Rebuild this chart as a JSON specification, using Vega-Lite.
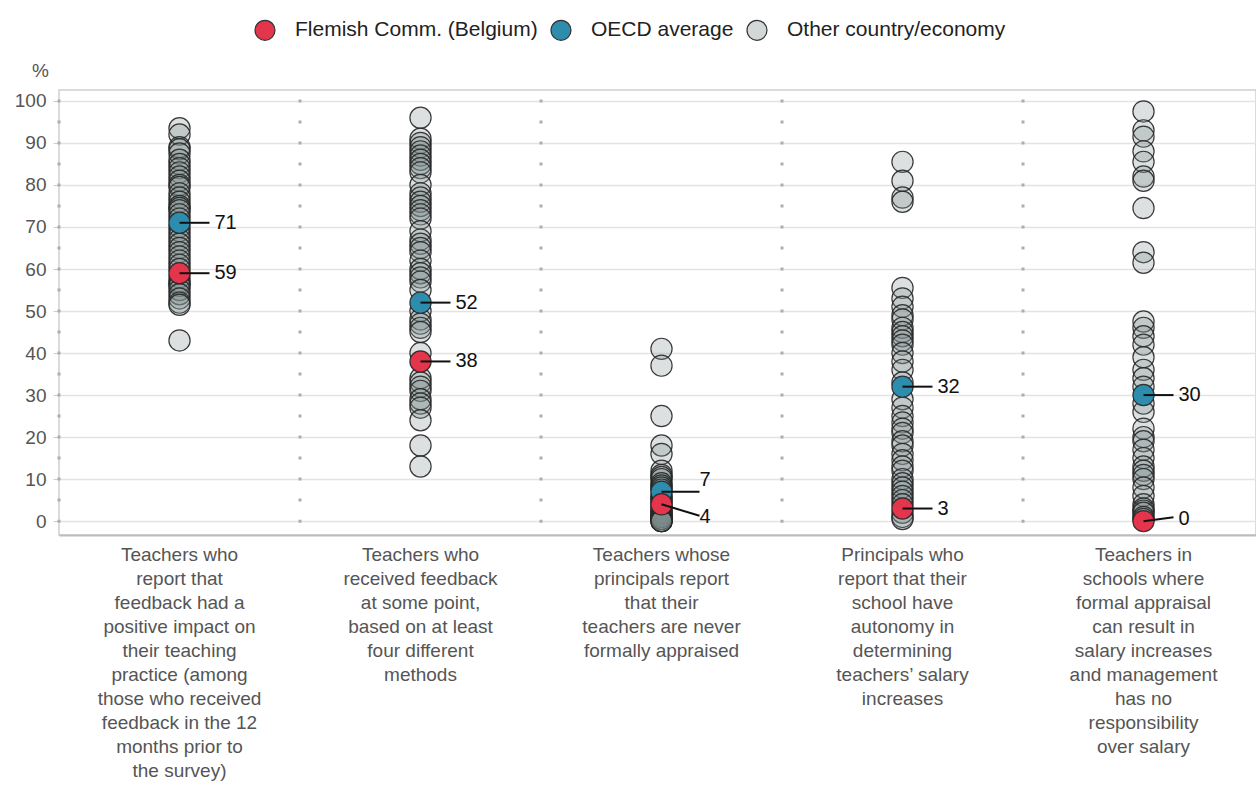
{
  "$schema": "https://vega.github.io/schema/vega-lite/v6.json",
  "width": 1197,
  "height": 445,
  "autosize": {"type": "none"},
  "padding": {"left": 59, "top": 90, "right": 0, "bottom": 255},
  "background": "white",
  "config": {
    "font": "Liberation Sans",
    "view": {"stroke": "#d0d0d0", "strokeWidth": 1.5}
  },
  "datasets": {
    "cats": [
      {"k": "c1", "cat": "Teachers who|report that|feedback had a|positive impact on|their teaching|practice (among|those who received|feedback in the 12|months prior to|the survey)"},
      {"k": "c2", "cat": "Teachers who|received feedback|at some point,|based on at least|four different|methods"},
      {"k": "c3", "cat": "Teachers whose|principals report|that their|teachers are never|formally appraised"},
      {"k": "c4", "cat": "Principals who|report that their|school have|autonomy in|determining|teachers’ salary|increases"},
      {"k": "c5", "cat": "Teachers in|schools where|formal appraisal|can result in|salary increases|and management|has no|responsibility|over salary"}
    ],
    "points": [
      {"k":"c1","g":"Other country/economy","v":93.5},{"k":"c1","g":"Other country/economy","v":92},{"k":"c1","g":"Other country/economy","v":89},{"k":"c1","g":"Other country/economy","v":88.5},{"k":"c1","g":"Other country/economy","v":87.5},{"k":"c1","g":"Other country/economy","v":86},{"k":"c1","g":"Other country/economy","v":85},{"k":"c1","g":"Other country/economy","v":84},{"k":"c1","g":"Other country/economy","v":83},{"k":"c1","g":"Other country/economy","v":82},{"k":"c1","g":"Other country/economy","v":81},{"k":"c1","g":"Other country/economy","v":80},{"k":"c1","g":"Other country/economy","v":79.5},{"k":"c1","g":"Other country/economy","v":78},{"k":"c1","g":"Other country/economy","v":77},{"k":"c1","g":"Other country/economy","v":76},{"k":"c1","g":"Other country/economy","v":75},{"k":"c1","g":"Other country/economy","v":74.5},{"k":"c1","g":"Other country/economy","v":74},{"k":"c1","g":"Other country/economy","v":73},{"k":"c1","g":"Other country/economy","v":72},{"k":"c1","g":"Other country/economy","v":70},{"k":"c1","g":"Other country/economy","v":69},{"k":"c1","g":"Other country/economy","v":68},{"k":"c1","g":"Other country/economy","v":67},{"k":"c1","g":"Other country/economy","v":66},{"k":"c1","g":"Other country/economy","v":65},{"k":"c1","g":"Other country/economy","v":64},{"k":"c1","g":"Other country/economy","v":63},{"k":"c1","g":"Other country/economy","v":62},{"k":"c1","g":"Other country/economy","v":61},{"k":"c1","g":"Other country/economy","v":60},{"k":"c1","g":"Other country/economy","v":58},{"k":"c1","g":"Other country/economy","v":57},{"k":"c1","g":"Other country/economy","v":56.5},{"k":"c1","g":"Other country/economy","v":56},{"k":"c1","g":"Other country/economy","v":55},{"k":"c1","g":"Other country/economy","v":54},{"k":"c1","g":"Other country/economy","v":53},{"k":"c1","g":"Other country/economy","v":52},{"k":"c1","g":"Other country/economy","v":51.5},{"k":"c1","g":"Other country/economy","v":43},
      {"k":"c2","g":"Other country/economy","v":96},{"k":"c2","g":"Other country/economy","v":91},{"k":"c2","g":"Other country/economy","v":90},{"k":"c2","g":"Other country/economy","v":89},{"k":"c2","g":"Other country/economy","v":88},{"k":"c2","g":"Other country/economy","v":87},{"k":"c2","g":"Other country/economy","v":86},{"k":"c2","g":"Other country/economy","v":85},{"k":"c2","g":"Other country/economy","v":84},{"k":"c2","g":"Other country/economy","v":83},{"k":"c2","g":"Other country/economy","v":80},{"k":"c2","g":"Other country/economy","v":78},{"k":"c2","g":"Other country/economy","v":77},{"k":"c2","g":"Other country/economy","v":76},{"k":"c2","g":"Other country/economy","v":75},{"k":"c2","g":"Other country/economy","v":74},{"k":"c2","g":"Other country/economy","v":73},{"k":"c2","g":"Other country/economy","v":72},{"k":"c2","g":"Other country/economy","v":69},{"k":"c2","g":"Other country/economy","v":67},{"k":"c2","g":"Other country/economy","v":66},{"k":"c2","g":"Other country/economy","v":65},{"k":"c2","g":"Other country/economy","v":64},{"k":"c2","g":"Other country/economy","v":62},{"k":"c2","g":"Other country/economy","v":60},{"k":"c2","g":"Other country/economy","v":59},{"k":"c2","g":"Other country/economy","v":58},{"k":"c2","g":"Other country/economy","v":57},{"k":"c2","g":"Other country/economy","v":55},{"k":"c2","g":"Other country/economy","v":50},{"k":"c2","g":"Other country/economy","v":48},{"k":"c2","g":"Other country/economy","v":47},{"k":"c2","g":"Other country/economy","v":46},{"k":"c2","g":"Other country/economy","v":45},{"k":"c2","g":"Other country/economy","v":40},{"k":"c2","g":"Other country/economy","v":34},{"k":"c2","g":"Other country/economy","v":33},{"k":"c2","g":"Other country/economy","v":32},{"k":"c2","g":"Other country/economy","v":31},{"k":"c2","g":"Other country/economy","v":29},{"k":"c2","g":"Other country/economy","v":28},{"k":"c2","g":"Other country/economy","v":27},{"k":"c2","g":"Other country/economy","v":24},{"k":"c2","g":"Other country/economy","v":18},{"k":"c2","g":"Other country/economy","v":13},
      {"k":"c3","g":"Other country/economy","v":41},{"k":"c3","g":"Other country/economy","v":37},{"k":"c3","g":"Other country/economy","v":25},{"k":"c3","g":"Other country/economy","v":18},{"k":"c3","g":"Other country/economy","v":16},{"k":"c3","g":"Other country/economy","v":12},{"k":"c3","g":"Other country/economy","v":11},{"k":"c3","g":"Other country/economy","v":10.5},{"k":"c3","g":"Other country/economy","v":10},{"k":"c3","g":"Other country/economy","v":9},{"k":"c3","g":"Other country/economy","v":8.5},{"k":"c3","g":"Other country/economy","v":8},{"k":"c3","g":"Other country/economy","v":7.5},{"k":"c3","g":"Other country/economy","v":6},{"k":"c3","g":"Other country/economy","v":5.5},{"k":"c3","g":"Other country/economy","v":5},{"k":"c3","g":"Other country/economy","v":4.5},{"k":"c3","g":"Other country/economy","v":3.5},{"k":"c3","g":"Other country/economy","v":3},{"k":"c3","g":"Other country/economy","v":2.5},{"k":"c3","g":"Other country/economy","v":2},{"k":"c3","g":"Other country/economy","v":2},{"k":"c3","g":"Other country/economy","v":1.5},{"k":"c3","g":"Other country/economy","v":1},{"k":"c3","g":"Other country/economy","v":1},{"k":"c3","g":"Other country/economy","v":0.5},{"k":"c3","g":"Other country/economy","v":0.5},{"k":"c3","g":"Other country/economy","v":0},{"k":"c3","g":"Other country/economy","v":0},{"k":"c3","g":"Other country/economy","v":0},
      {"k":"c4","g":"Other country/economy","v":85.5},{"k":"c4","g":"Other country/economy","v":81},{"k":"c4","g":"Other country/economy","v":77},{"k":"c4","g":"Other country/economy","v":76},{"k":"c4","g":"Other country/economy","v":55.5},{"k":"c4","g":"Other country/economy","v":53},{"k":"c4","g":"Other country/economy","v":51},{"k":"c4","g":"Other country/economy","v":49},{"k":"c4","g":"Other country/economy","v":48},{"k":"c4","g":"Other country/economy","v":46},{"k":"c4","g":"Other country/economy","v":45},{"k":"c4","g":"Other country/economy","v":44},{"k":"c4","g":"Other country/economy","v":43},{"k":"c4","g":"Other country/economy","v":42},{"k":"c4","g":"Other country/economy","v":40},{"k":"c4","g":"Other country/economy","v":38},{"k":"c4","g":"Other country/economy","v":36},{"k":"c4","g":"Other country/economy","v":33},{"k":"c4","g":"Other country/economy","v":29},{"k":"c4","g":"Other country/economy","v":27},{"k":"c4","g":"Other country/economy","v":25},{"k":"c4","g":"Other country/economy","v":23.5},{"k":"c4","g":"Other country/economy","v":22},{"k":"c4","g":"Other country/economy","v":21},{"k":"c4","g":"Other country/economy","v":19},{"k":"c4","g":"Other country/economy","v":18},{"k":"c4","g":"Other country/economy","v":16},{"k":"c4","g":"Other country/economy","v":14.5},{"k":"c4","g":"Other country/economy","v":13},{"k":"c4","g":"Other country/economy","v":12},{"k":"c4","g":"Other country/economy","v":10},{"k":"c4","g":"Other country/economy","v":9},{"k":"c4","g":"Other country/economy","v":8},{"k":"c4","g":"Other country/economy","v":7},{"k":"c4","g":"Other country/economy","v":6},{"k":"c4","g":"Other country/economy","v":5},{"k":"c4","g":"Other country/economy","v":4},{"k":"c4","g":"Other country/economy","v":2},{"k":"c4","g":"Other country/economy","v":1},{"k":"c4","g":"Other country/economy","v":0.5},
      {"k":"c5","g":"Other country/economy","v":97.5},{"k":"c5","g":"Other country/economy","v":93},{"k":"c5","g":"Other country/economy","v":91.5},{"k":"c5","g":"Other country/economy","v":88},{"k":"c5","g":"Other country/economy","v":85.5},{"k":"c5","g":"Other country/economy","v":82},{"k":"c5","g":"Other country/economy","v":81},{"k":"c5","g":"Other country/economy","v":74.5},{"k":"c5","g":"Other country/economy","v":64},{"k":"c5","g":"Other country/economy","v":61.5},{"k":"c5","g":"Other country/economy","v":47.5},{"k":"c5","g":"Other country/economy","v":46},{"k":"c5","g":"Other country/economy","v":44},{"k":"c5","g":"Other country/economy","v":42},{"k":"c5","g":"Other country/economy","v":39},{"k":"c5","g":"Other country/economy","v":36},{"k":"c5","g":"Other country/economy","v":34},{"k":"c5","g":"Other country/economy","v":32},{"k":"c5","g":"Other country/economy","v":28},{"k":"c5","g":"Other country/economy","v":26},{"k":"c5","g":"Other country/economy","v":22},{"k":"c5","g":"Other country/economy","v":20},{"k":"c5","g":"Other country/economy","v":19},{"k":"c5","g":"Other country/economy","v":17},{"k":"c5","g":"Other country/economy","v":15},{"k":"c5","g":"Other country/economy","v":13},{"k":"c5","g":"Other country/economy","v":12},{"k":"c5","g":"Other country/economy","v":11},{"k":"c5","g":"Other country/economy","v":10},{"k":"c5","g":"Other country/economy","v":8},{"k":"c5","g":"Other country/economy","v":6},{"k":"c5","g":"Other country/economy","v":4},{"k":"c5","g":"Other country/economy","v":3},{"k":"c5","g":"Other country/economy","v":2.5},{"k":"c5","g":"Other country/economy","v":2},{"k":"c5","g":"Other country/economy","v":1},{"k":"c5","g":"Other country/economy","v":0.5},
      {"k":"c1","g":"OECD average","v":71},{"k":"c2","g":"OECD average","v":52},{"k":"c3","g":"OECD average","v":7},{"k":"c4","g":"OECD average","v":32},{"k":"c5","g":"OECD average","v":30},
      {"k":"c1","g":"Flemish Comm. (Belgium)","v":59},{"k":"c2","g":"Flemish Comm. (Belgium)","v":38},{"k":"c3","g":"Flemish Comm. (Belgium)","v":4},{"k":"c4","g":"Flemish Comm. (Belgium)","v":3},{"k":"c5","g":"Flemish Comm. (Belgium)","v":0}
    ],
    "labels": [
      {"k":"c1","v":71,"ly":71,"ty":71,"t":"71"},
      {"k":"c1","v":59,"ly":59,"ty":59,"t":"59"},
      {"k":"c2","v":52,"ly":52,"ty":52,"t":"52"},
      {"k":"c2","v":38,"ly":38,"ty":38,"t":"38"},
      {"k":"c3","v":7,"ly":7,"ty":9.7,"t":"7"},
      {"k":"c3","v":4,"ly":1.3,"ty":1,"t":"4"},
      {"k":"c4","v":32,"ly":32,"ty":32,"t":"32"},
      {"k":"c4","v":3,"ly":3,"ty":3,"t":"3"},
      {"k":"c5","v":30,"ly":30,"ty":30,"t":"30"},
      {"k":"c5","v":0,"ly":0.9,"ty":0.5,"t":"0"}
    ]
  },
  "layer": [
    {
      "data": {"name": "cats"},
      "mark": {"type": "rule", "stroke": "#adadad", "strokeWidth": 3, "strokeDash": [3, 18.01], "strokeDashOffset": 11.58},
      "encoding": {
        "x": {"field": "cat", "type": "nominal", "bandPosition": 0, "sort": null, "title": null,
          "scale": {"domain": ["Teachers who|report that|feedback had a|positive impact on|their teaching|practice (among|those who received|feedback in the 12|months prior to|the survey)", "Teachers who|received feedback|at some point,|based on at least|four different|methods", "Teachers whose|principals report|that their|teachers are never|formally appraised", "Principals who|report that their|school have|autonomy in|determining|teachers’ salary|increases", "Teachers in|schools where|formal appraisal|can result in|salary increases|and management|has no|responsibility|over salary"], "range": [0, 1205], "paddingInner": 0, "paddingOuter": 0},
          "axis": {"labelExpr": "split(datum.label, '|')", "labelAngle": 0, "labelAlign": "center", "labelBaseline": "top", "labelFontSize": 19, "labelColor": "#555555", "labelLineHeight": 24, "labelPadding": 10, "labelLimit": 240, "ticks": false, "domainColor": "#bdbdbd", "domainWidth": 2, "grid": false}}
      }
    },
    {
      "data": {"name": "points"},
      "transform": [{"lookup": "k", "from": {"data": {"name": "cats"}, "key": "k", "fields": ["cat"]}}],
      "mark": {"type": "point", "shape": "circle", "filled": true, "opacity": 1, "size": 450, "stroke": "#262626", "strokeWidth": 1.2, "strokeOpacity": 0.9},
      "encoding": {
        "x": {"field": "cat", "type": "nominal", "sort": null, "title": null},
        "y": {"field": "v", "type": "quantitative", "title": "%",
          "scale": {"domain": [-3.3, 102.6], "nice": false, "zero": false},
          "axis": {"values": [0, 10, 20, 30, 40, 50, 60, 70, 80, 90, 100], "grid": true, "gridColor": "#e3e3e3", "gridWidth": 1.5, "domain": false, "ticks": true, "tickSize": 6, "tickColor": "#cccccc", "labelFontSize": 19, "labelColor": "#555555", "labelPadding": 7, "titleAngle": 0, "titleX": -19, "titleY": -20, "titleFontSize": 19, "titleFontWeight": "normal", "titleColor": "#555555", "titleAlign": "center", "titleBaseline": "middle"}},
        "color": {"field": "g", "type": "nominal",
          "scale": {"domain": ["Flemish Comm. (Belgium)", "OECD average", "Other country/economy"], "range": ["#e3354b", "#2e8cad", "#7f8b8b"]},
          "legend": {"title": null, "orient": "none", "legendX": 195, "legendY": -71, "direction": "horizontal", "symbolType": "circle", "symbolSize": 400, "symbolOpacity": 1, "symbolStrokeColor": "#333333", "symbolStrokeWidth": 1.2, "labelFontSize": 21, "labelColor": "#222222", "labelOffset": 19, "labelLimit": 400, "columnPadding": 10, "padding": 0,
            "encode": {"symbols": {"update": {"fillOpacity": {"signal": "datum.value == 'Other country/economy' ? 0.35 : 1"}}}}}},
        "fillOpacity": {"condition": {"test": "datum.g == 'Other country/economy'", "value": 0.27}, "value": 1}
      }
    },
    {
      "data": {"name": "labels"},
      "transform": [{"lookup": "k", "from": {"data": {"name": "cats"}, "key": "k", "fields": ["cat"]}}, {"filter": "datum.k != 'c3'"}],
      "mark": {"type": "rule", "stroke": "#111111", "strokeWidth": 2, "x2Offset": 30},
      "encoding": {
        "x": {"field": "cat", "type": "nominal", "sort": null, "title": null},
        "x2": {"field": "cat"},
        "y": {"field": "v", "type": "quantitative", "title": "%"},
        "y2": {"field": "ly"}
      }
    },
    {
      "data": {"name": "labels"},
      "transform": [{"lookup": "k", "from": {"data": {"name": "cats"}, "key": "k", "fields": ["cat"]}}, {"filter": "datum.k == 'c3'"}],
      "mark": {"type": "rule", "stroke": "#111111", "strokeWidth": 2, "x2Offset": 38},
      "encoding": {
        "x": {"field": "cat", "type": "nominal", "sort": null, "title": null},
        "x2": {"field": "cat"},
        "y": {"field": "v", "type": "quantitative", "title": "%"},
        "y2": {"field": "ly"}
      }
    },
    {
      "data": {"name": "labels"},
      "transform": [{"lookup": "k", "from": {"data": {"name": "cats"}, "key": "k", "fields": ["cat"]}}, {"filter": "datum.k != 'c3'"}],
      "mark": {"type": "text", "align": "left", "baseline": "middle", "dx": 35, "fontSize": 20, "color": "#111111"},
      "encoding": {
        "x": {"field": "cat", "type": "nominal", "sort": null, "title": null},
        "y": {"field": "ty", "type": "quantitative", "title": "%"},
        "text": {"field": "t"}
      }
    },
    {
      "data": {"name": "labels"},
      "transform": [{"lookup": "k", "from": {"data": {"name": "cats"}, "key": "k", "fields": ["cat"]}}, {"filter": "datum.k == 'c3'"}],
      "mark": {"type": "text", "align": "left", "baseline": "middle", "dx": 38, "fontSize": 20, "color": "#111111"},
      "encoding": {
        "x": {"field": "cat", "type": "nominal", "sort": null, "title": null},
        "y": {"field": "ty", "type": "quantitative", "title": "%"},
        "text": {"field": "t"}
      }
    }
  ]
}
